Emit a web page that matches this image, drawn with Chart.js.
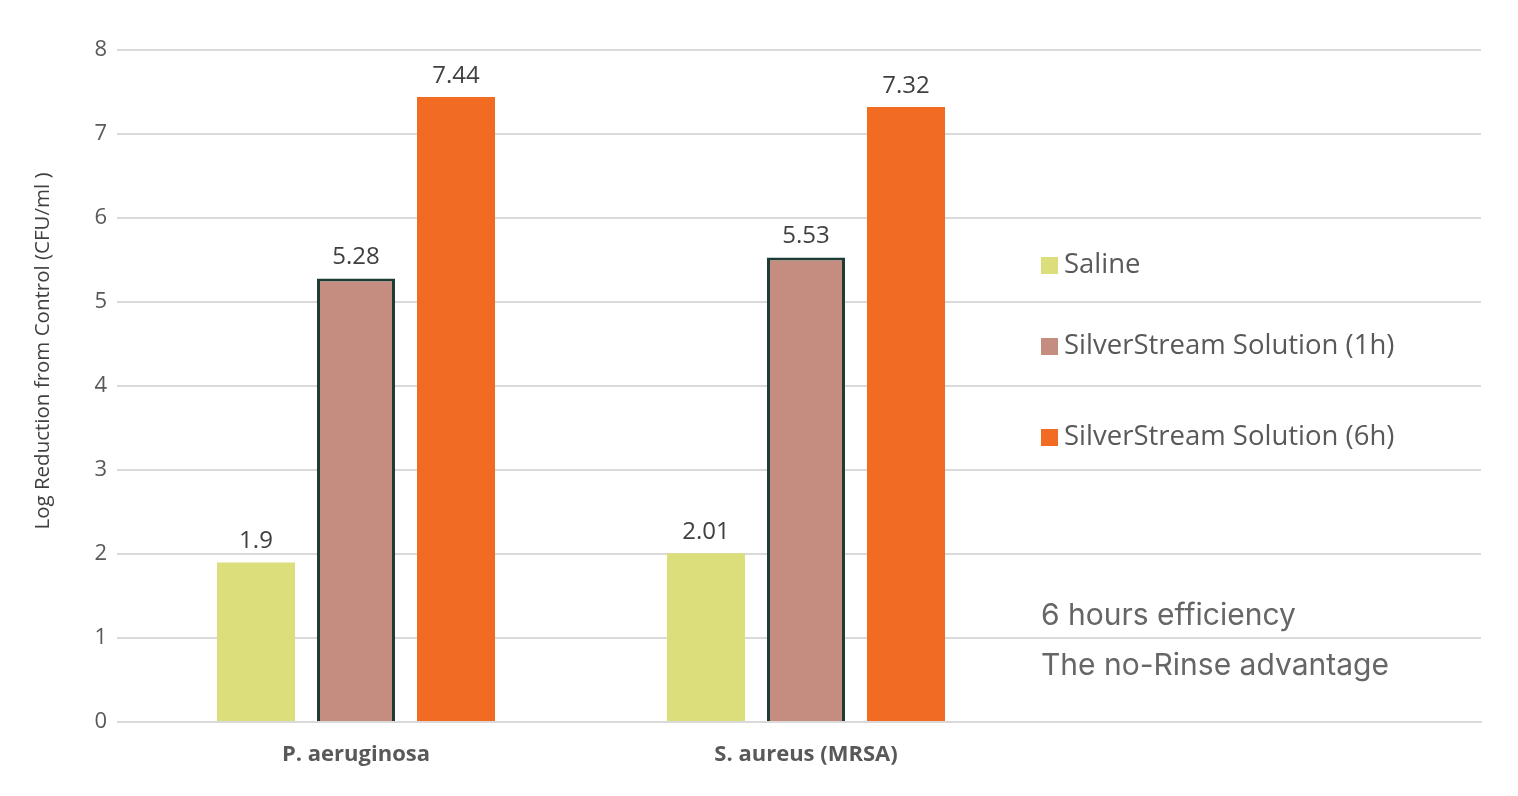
<!DOCTYPE html>
<html>
<head>
<meta charset="utf-8">
<script src="https://cdn.jsdelivr.net/npm/chart.js@4.4.0/dist/chart.umd.min.js"></script>
<style>
html,body{margin:0;padding:0;background:#fff;}
#wrap{width:1518px;height:796px;position:relative;}
</style>
</head>
<body>
<div id="wrap"><canvas id="c" width="1518" height="796"></canvas></div>
<script>
const categories = ["P. aeruginosa", "S. aureus (MRSA)", ""];
const seriesNames = ["Saline", "SilverStream Solution (1h)", "SilverStream Solution (6h)"];
const saline = [1.9, 2.01, null];
const silver1h = [5.28, 5.53, null];
const silver6h = [7.44, 7.32, null];
const yTicks = [0, 1, 2, 3, 4, 5, 6, 7, 8];
const yTitle = "Log Reduction from Control (CFU/ml )";
const notes = ["6 hours efficiency", "The no-Rinse advantage"];

const colors = ["#DCDD7B", "#C48D7F", "#F26B23"];
const FONT = "'Open Sans', 'Liberation Sans', sans-serif";

const overlay = {
  id: 'overlay',
  afterDatasetsDraw(chart) {
    const ctx = chart.ctx;
    ctx.save();
    ctx.font = "24px " + FONT;
    ctx.fillStyle = "#404040";
    ctx.textAlign = "center";
    ctx.textBaseline = "middle";
    chart.data.datasets.forEach((ds, di) => {
      const meta = chart.getDatasetMeta(di);
      meta.data.forEach((el, i) => {
        const v = ds.data[i];
        if (v === null || v === undefined) return;
        ctx.fillText(String(v), el.x, el.y - 21);
      });
    });
    ctx.restore();
  },
  afterDraw(chart) {
    const ctx = chart.ctx;
    ctx.save();
    // legend
    const ly = [265, 346, 437];
    chart.data.datasets.forEach((ds, di) => {
      ctx.fillStyle = ds.backgroundColor;
      ctx.fillRect(1041, ly[di] - 8, 17, 17);
      ctx.fillStyle = "#595959";
      ctx.font = "27.5px " + FONT;
      ctx.textAlign = "left";
      ctx.textBaseline = "middle";
      ctx.fillText(ds.label, 1064, ly[di]);
    });
    // notes
    ctx.font = "30px Inter, 'Noto Sans', sans-serif";
    ctx.fillStyle = "#666666";
    ctx.textBaseline = "middle";
    ctx.fillText(notes[0], 1041, 616);
    ctx.fillText(notes[1], 1041, 666);
    // y title
    ctx.translate(43, 351);
    ctx.rotate(-Math.PI / 2);
    ctx.font = "20.5px " + FONT;
    ctx.fillStyle = "#404040";
    ctx.textAlign = "center";
    ctx.fillText(yTitle, 0, 0);
    ctx.restore();
  }
};

new Chart(document.getElementById('c'), {
  type: 'bar',
  data: {
    labels: categories,
    datasets: [
      { label: seriesNames[0], data: saline, backgroundColor: colors[0], borderWidth: 0 },
      { label: seriesNames[1], data: silver1h, backgroundColor: colors[1], borderColor: "#1E3C35", borderWidth: 3 },
      { label: seriesNames[2], data: silver6h, backgroundColor: colors[2], borderWidth: 0 }
    ]
  },
  options: {
    responsive: false,
    animation: false,
    devicePixelRatio: 1,
    categoryPercentage: 0.6667,
    barPercentage: 0.78,
    layout: { padding: { top: 50, right: 37, left: 0, bottom: 0 } },
    plugins: { legend: { display: false }, tooltip: { enabled: false } },
    scales: {
      x: {
        grid: { display: false, drawTicks: false },
        border: { display: true, color: "#D9D9D9", width: 2 },
        ticks: { font: { family: FONT, size: 22, weight: 'bold' }, color: "#595959", padding: 20 },
        afterFit(scale) { scale.height = 74; }
      },
      y: {
        min: 0, max: 8,
        afterBuildTicks(scale) { scale.ticks = yTicks.map(v => ({ value: v })); },
        grid: { color: "#D9D9D9", lineWidth: 2, drawTicks: true, tickLength: 14 },
        border: { display: false },
        ticks: { font: { family: FONT, size: 22 }, color: "#595959", padding: 10 },
        afterFit(scale) { scale.width = 131; }
      }
    }
  },
  plugins: [overlay]
});
</script>
</body>
</html>
